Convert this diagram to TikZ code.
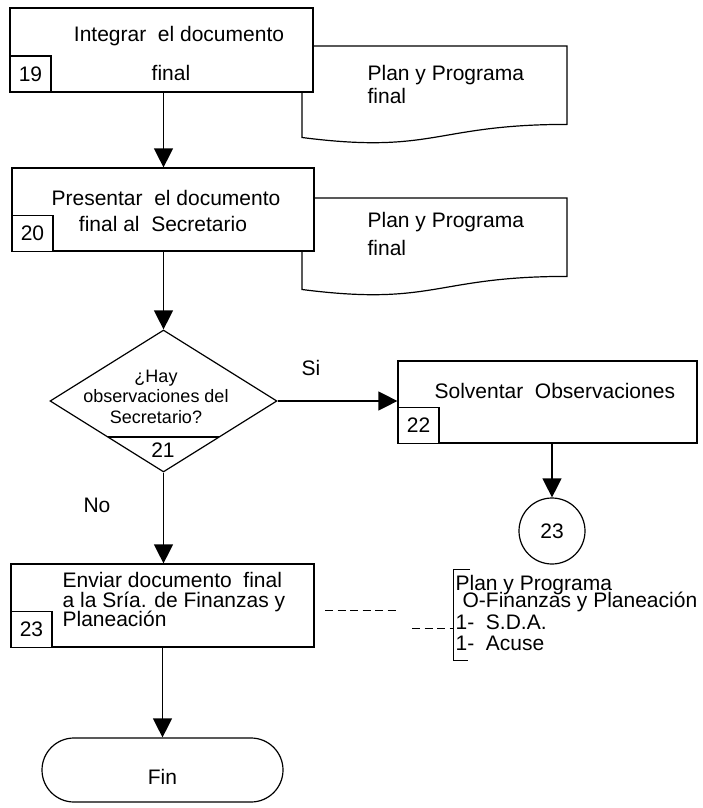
\documentclass[tikz,border=0pt]{standalone}
\usepackage{fontspec}
\setmainfont{Liberation Sans}
\usetikzlibrary{arrows.meta,shapes.geometric,shapes.misc,calc}
\begin{document}
\begin{tikzpicture}[x=1pt,y=-1pt,
  line width=1.2pt,
  box/.style={draw, fill=white, rectangle, inner sep=0pt},
  numbox/.style={draw, fill=white, rectangle, inner sep=0pt, minimum width=41, minimum height=36,
    font=\fontsize{21}{21}\selectfont},
  txt/.style={inner sep=0pt, anchor=base, font=\fontsize{21}{21}\selectfont},
  ltxt/.style={txt, anchor=base west},
  qtxt/.style={inner sep=0pt, anchor=base, font=\fontsize{18}{18}\selectfont},
  flow/.style={-{Triangle[length=19pt,width=19pt]}},
  docshape/.style={draw, fill=white},
]
\useasboundingbox (0,0) rectangle (703,808);

% documents (drawn first, boxes lie over their left edge)
\draw[docshape] (302,46) -- (567,46) -- (567,124.4)
  .. controls (434.5,124.4) and (434.5,154.5) .. (302,137.5) -- cycle;
\node[ltxt] (d1a) at (367,80) {Plan y Programa};
\node[ltxt] (d1b) at (367,103) {final};

\draw[docshape] (302,198) -- (567,198) -- (567,276.4)
  .. controls (434.5,276.4) and (434.5,306.5) .. (302,289.5) -- cycle;
\node[ltxt] (d2a) at (367,227) {Plan y Programa};
\node[ltxt] (d2b) at (367,255) {final};

% step 19
\node[box, minimum width=303, minimum height=84] (b19) at (161.5,50) {};
\node[numbox] (n19) at (30.5,74) {19};
\node[txt] (t19a) at (179,42) {Integrar~ el documento};
\node[txt] (t19b) at (171,80) {final};

% step 20
\node[box, minimum width=302, minimum height=83] (b20) at (163,209.5) {};
\node[numbox] (n20) at (32.5,233.5) {20};
\node[txt] (t20a) at (166,205) {Presentar~ el documento};
\node[txt] (t20b) at (163,231) {final al~ Secretario};

% decision 21
\node[draw, fill=white, diamond, inner sep=0pt, minimum width=227, minimum height=142] (d21) at (163.5,401) {};
\draw ($(d21.center)+(-55.9,36)$) -- ++(111.8,0);
\node[qtxt] (q1) at (156,382) {¿Hay};
\node[qtxt] (q2) at (156,402) {observaciones del};
\node[qtxt] (q3) at (156,423) {Secretario?};
\node[txt] (n21) at (163,457) {21};

% step 22
\node[box, minimum width=299, minimum height=82] (b22) at (547.5,402) {};
\node[numbox] (n22) at (418.5,425.5) {22};
\node[ltxt] (t22) at (434,398) {Solventar~ Observaciones};

% connector 23
\node[draw, circle, inner sep=0pt, minimum size=66, font=\fontsize{21}{21}\selectfont] (c23) at (552,531) {23};

% step 23
\node[box, minimum width=303, minimum height=83] (b23) at (162.5,605.5) {};
\node[numbox] (n23) at (31.5,629.5) {23};
\node[ltxt] (t23a) at (62,587) {Enviar documento~ final};
\node[ltxt] (t23b) at (62,607) {a la Sría. de Finanzas y};
\node[ltxt] (t23c) at (62,626) {Planeación};

% distribution list
\coordinate (brtop) at (453,569);
\coordinate (brbot) at (453,660);
\draw[line width=1pt] ($(brtop)+(17,0)$) -- (brtop) -- (brbot) -- ++(15,0);
\node[ltxt] (l1) at (455,590) {Plan y Programa};
\node[ltxt] (l2) at (462,607) {O-Finanzas y Planeación};
\node[ltxt] (l3) at (455,629) {1-~ S.D.A.};
\node[ltxt] (l4) at (455,650) {1-~ Acuse};
\coordinate (dashA) at (325,610);
\coordinate (dashB) at (398,610);
\coordinate (dashC) at (412,628);
\draw[line width=1pt, dash pattern=on 8pt off 4.5pt] (dashA) -- (dashB);
\draw[line width=1pt, dash pattern=on 8pt off 4.5pt] (dashC) -- (dashC -| brtop);

% end
\node[draw, rounded rectangle, inner sep=0pt, minimum width=241, minimum height=64] (fin) at (162.5,770) {};
\node[txt] (tfin) at (162.5,784) {Fin};

% labels
\node[txt] (si) at (311,375) {Si};
\node[txt] (no) at (97,512) {No};

% flow
\draw[flow] (b19.south -| d21.north) -- (b20.north -| d21.north);
\draw[flow] (d21.north |- b20.south) -- (d21.north);
\draw[flow] (d21.east) -- (d21.east -| b22.west);
\draw[flow] (c23.north |- b22.south) -- (c23.north);
\draw[flow] (d21.south) -- (d21.south |- b23.north);
\draw[flow] (fin.north |- b23.south) -- (fin.north);
\end{tikzpicture}
\end{document}
